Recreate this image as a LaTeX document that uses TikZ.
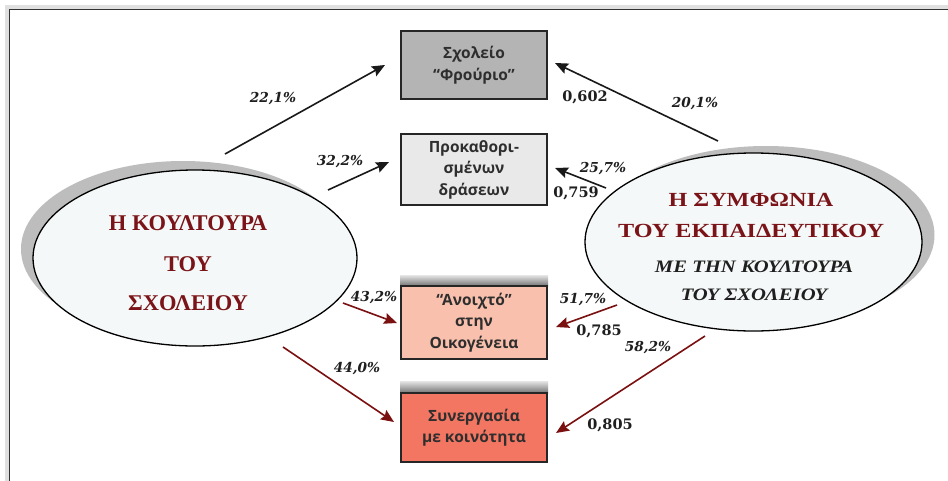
\documentclass[tikz,border=0pt]{standalone}
\usepackage{fontspec}
\setmainfont{Liberation Serif}
\newfontfamily\boxfont{Open Sans}
\newfontfamily\labfont{DejaVu Serif}
\newfontfamily\ellwide{Liberation Serif}[FakeStretch=1.21]
\newfontfamily\ellwideit{Liberation Serif}[FakeStretch=1.18]
\usetikzlibrary{arrows.meta,shapes.geometric}
\definecolor{ellred}{HTML}{7A1418}
\definecolor{arrred}{HTML}{7A1010}
\definecolor{boxA}{HTML}{B4B4B4}
\definecolor{boxB}{HTML}{E9E9E9}
\definecolor{boxC}{HTML}{F9C1AD}
\definecolor{boxD}{HTML}{F27662}
\definecolor{ellfill}{HTML}{F5F8F8}
\definecolor{shadowgray}{HTML}{BDBDBD}
\begin{document}
\begin{tikzpicture}[x=1pt,y=-1pt,
  boxnode/.style={draw=black!85, line width=1.6pt, minimum width=146pt, inner sep=0pt,
    font=\boxfont\bfseries\fontsize{15.5}{21.5}\selectfont, text=black!82, align=center},
  ellnode/.style={ellipse, draw=black, line width=1.3pt, fill=ellfill, inner sep=0pt},
  ellshadow/.style={ellipse, fill=shadowgray, inner sep=0pt},
  elltext/.style={text=ellred, font=\bfseries\fontsize{22.5}{22}\selectfont, inner sep=0pt},
  elltextR/.style={text=ellred, font=\ellwide\bfseries\fontsize{20}{20}\selectfont, inner sep=0pt},
  ellital/.style={text=black!88, font=\ellwideit\bfseries\itshape\fontsize{17.5}{17}\selectfont, inner sep=0pt},
  pct/.style={font=\labfont\bfseries\itshape\fontsize{13.7}{14}\selectfont, text=black!88, inner sep=0pt},
  coef/.style={font=\labfont\bfseries\fontsize{14.5}{14}\selectfont, text=black!88, inner sep=0pt},
  blackarrow/.style={draw=black!90, line width=1.6pt, -{Stealth[length=13pt,width=11pt,inset=2pt]}},
  redarrow/.style={draw=arrred, line width=1.6pt, -{Stealth[length=13pt,width=11pt,inset=2pt]}},
  bar/.style={top color=black!10, bottom color=black!55, draw=none}
]
\useasboundingbox (0,0) rectangle (948,480);
\clip (0,0) rectangle (948,480);
\fill[white] (0,0) rectangle (948,480);

% frame
\draw[black!12, line width=4pt] (6.5,6.5) rectangle (970,500);
\draw[black!80, line width=1.8pt] (9.5,9.5) rectangle (970,500);

% ellipses
\node[ellshadow, minimum width=324pt, minimum height=176pt] (lsh) at (183,249) {};
\node[ellnode, minimum width=324pt, minimum height=176pt] (left) at (195,258) {};
\node[ellshadow, minimum width=337pt, minimum height=178pt] (rsh) at (766,235) {};
\node[ellnode, minimum width=337pt, minimum height=178pt] (right) at (753.5,242) {};

\node[elltext] (l1) at (188,223) {Η ΚΟΥΛΤΟΥΡΑ};
\node[elltext] (l2) at (188,264) {ΤΟΥ};
\node[elltext] (l3) at (188,303) {ΣΧΟΛΕΙΟΥ};

\node[elltextR] (r1) at (751,200) {Η ΣΥΜΦΩΝΙΑ};
\node[elltextR] (r2) at (751,231) {ΤΟΥ ΕΚΠΑΙΔΕΥΤΙΚΟΥ};
\node[ellital] (r3) at (754,267) {ΜΕ ΤΗΝ ΚΟΥΛΤΟΥΡΑ};
\node[ellital] (r4) at (754,295) {ΤΟΥ ΣΧΟΛΕΙΟΥ};

% labels (drawn before boxes so boxes cover overlaps)
\node[pct] (p1) at (273,99) {22,1\%};
\node[pct] (p2) at (340,162) {32,2\%};
\node[pct] (p3) at (374,298) {43,2\%};
\node[pct] (p4) at (357,369) {44,0\%};
\node[pct] (p5) at (695,104) {20,1\%};
\node[pct] (p6) at (603,169) {25,7\%};
\node[pct] (p7) at (583,300) {51,7\%};
\node[pct] (p8) at (648,348) {58,2\%};
\node[coef] (c1) at (585,97) {0,602};
\node[coef] (c2) at (576,193) {0,759};
\node[coef] (c3) at (599,331) {0,785};
\node[coef] (c4) at (610,425) {0,805};

% bars above lower boxes
\fill[bar] (400,275) rectangle (548,286);
\fill[bar] (400,381) rectangle (548,393);

% boxes
\node[boxnode, fill=boxA, minimum height=68pt] (b1) at (474,65) {Σχολείο\\“Φρούριο”};
\node[boxnode, fill=boxB, minimum height=71pt] (b2) at (474,169.5) {Προκαθορι-\\σμένων\\δράσεων};
\node[boxnode, fill=boxC, minimum height=73pt] (b3) at (474,322.5) {“Ανοιχτό”\\στην\\Οικογένεια};
\node[boxnode, fill=boxD, minimum height=69pt] (b4) at (474,427.5) {Συνεργασία\\με κοινότητα};

% arrow endpoints
\coordinate (a1s) at (225,154);  \coordinate (a1e) at (385,65);
\coordinate (a2s) at (328,190);  \coordinate (a2e) at (389,162);
\coordinate (a3s) at (343,303);  \coordinate (a3e) at (397,323);
\coordinate (a4s) at (283,347);  \coordinate (a4e) at (394,422);
\coordinate (b1s) at (718,141);  \coordinate (b1e) at (555,63);
\coordinate (b2s) at (606,188);  \coordinate (b2e) at (555,168);
\coordinate (b3s) at (617,305);  \coordinate (b3e) at (556,327);
\coordinate (b4s) at (705,336);  \coordinate (b4e) at (556,433);

\draw[blackarrow] (a1s) -- (a1e);
\draw[blackarrow] (a2s) -- (a2e);
\draw[redarrow] (a3s) -- (a3e);
\draw[redarrow] (a4s) -- (a4e);
\draw[blackarrow] (b1s) -- (b1e);
\draw[blackarrow] (b2s) -- (b2e);
\draw[redarrow] (b3s) -- (b3e);
\draw[redarrow] (b4s) -- (b4e);
\end{tikzpicture}
\end{document}
